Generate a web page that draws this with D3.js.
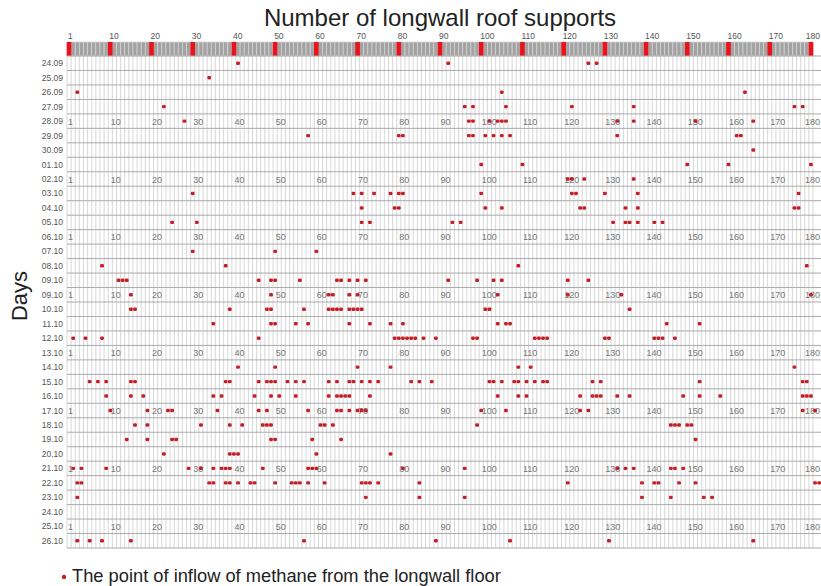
<!DOCTYPE html>
<html>
<head>
<meta charset="utf-8">
<script src="https://cdn.jsdelivr.net/npm/d3@7"></script>
<style>
  body { margin: 0; background: #fff; font-family: "Liberation Sans", Arial, sans-serif; }
</style>
</head>
<body>
<div id="chart"></div>
<script>
// days (rows) as printed in the source, including the repeated 09.10
const days = ['24.09', '25.09', '26.09', '27.09', '28.09', '29.09', '30.09', '01.10',
  '02.10', '03.10', '04.10', '05.10', '06.10', '07.10', '08.10', '09.10', '09.10',
  '10.10', '11.10', '12.10', '13.10', '14.10', '15.10', '16.10', '17.10', '18.10',
  '19.10', '20.10', '21.10', '22.10', '23.10', '24.10', '25.10', '26.10'];

// support column of each methane inflow point, one list per day
const inflowSupports = [
  [41, 92, 126, 128],
  [34],
  [2, 105, 164],
  [23, 96, 98, 106, 122, 137, 176, 178],
  [28, 97, 98, 102, 104, 105, 106, 133, 137, 152, 166],
  [58, 80, 81, 97, 98, 101, 103, 105, 107, 133, 162, 163],
  [166],
  [100, 110, 150, 160, 180],
  [121, 122, 125, 137],
  [30, 69, 71, 74, 78, 80, 81, 100, 122, 123, 130, 138, 177],
  [71, 79, 80, 101, 105, 124, 125, 135, 138, 176, 177],
  [25, 31, 71, 73, 93, 95, 132, 135, 136, 138, 142, 144],
  [],
  [30, 50, 60],
  [8, 38, 109, 179],
  [12, 13, 14, 46, 49, 50, 56, 65, 66, 68, 70, 72, 92, 99, 103, 105, 121, 126],
  [15, 49, 63, 64, 68, 70, 104, 121, 134, 180],
  [15, 16, 39, 48, 49, 57, 63, 64, 65, 66, 68, 69, 70, 71, 101, 102, 136],
  [35, 49, 50, 55, 58, 68, 73, 78, 81, 104, 106, 107, 145, 153],
  [1, 4, 8, 46, 79, 80, 81, 82, 83, 84, 86, 89, 98, 99, 113, 114, 115, 116, 130, 131, 142, 143, 144, 147],
  [],
  [41, 50, 70, 78, 109, 112, 176],
  [5, 7, 9, 15, 16, 38, 39, 46, 48, 49, 50, 53, 55, 57, 63, 65, 68, 69, 71, 73, 75, 83, 85, 88,
    102, 103, 105, 108, 109, 111, 113, 115, 116, 127, 129, 153, 178, 179],
  [9, 15, 18, 35, 37, 45, 49, 51, 55, 63, 65, 66, 67, 68, 73, 104, 109, 111, 124, 127, 128, 129,
    133, 136, 149, 153, 158, 178, 179, 180],
  [10, 19, 24, 25, 36, 46, 48, 58, 65, 66, 68, 70, 71, 72, 100, 106, 124, 126, 178, 181],
  [16, 19, 32, 39, 42, 47, 48, 49, 61, 62, 64, 99, 146, 147, 148, 150, 151],
  [14, 19, 25, 26, 49, 50, 59, 66, 152],
  [23, 39, 40, 41, 60, 78],
  [1, 3, 9, 29, 32, 35, 37, 38, 39, 47, 58, 59, 60, 81, 96, 133, 135, 137, 146, 147, 149],
  [2, 3, 34, 35, 38, 39, 41, 44, 45, 50, 54, 55, 56, 58, 62, 71, 72, 73, 75, 85, 121, 139, 142,
    143, 148, 152, 181, 182],
  [2, 72, 85, 96, 139, 146, 154, 156],
  [],
  [],
  [2, 5, 8, 15, 57, 89, 107, 131, 166],
];

const supportTicks = [0, 10, 20, 30, 40, 50, 60, 70, 80, 90, 100, 110, 120, 130, 140, 150, 160, 170, 180];
const supportTickLabels = ['1', '10', '20', '30', '40', '50', '60', '70', '80', '90', '100',
  '110', '120', '130', '140', '150', '160', '170', '180'];
const numberedRows = [4, 8, 12, 16, 20, 24, 28, 32];
const nSupports = 181;

const W = 821, H = 586;
const g = { left: 67, right: 813, top: 56, bottom: 548, headTop: 42 };

const svg = d3.select('#chart').append('svg')
  .attr('width', W)
  .attr('height', H);

const x = d3.scaleLinear().domain([0, nSupports]).range([g.left, g.right]);
const y = d3.scaleBand().domain(d3.range(days.length)).range([g.top, g.bottom]);
const cw = x(1) - x(0);
const cx = k => x(k + 0.5);
const last = supportTicks[supportTicks.length - 1];

// number labels: the last one is pulled in so it stays on the page
const labelX = (k, shift) => k === last ? W - 1 : cx(k) + shift;
const labelAnchor = k => k === last ? 'end' : 'start';

// title
svg.append('text')
  .attr('x', 440).attr('y', 26)
  .attr('text-anchor', 'middle')
  .attr('font-size', 24)
  .attr('fill', '#222')
  .text('Number of longwall roof supports');

// header strip with supports
const head = svg.append('g');
head.selectAll('rect')
  .data(d3.range(nSupports))
  .join('rect')
  .attr('x', k => x(k))
  .attr('y', g.headTop)
  .attr('width', cw)
  .attr('height', g.top - g.headTop)
  .attr('fill', '#a3a3a3')
  .attr('stroke', '#d6d6d6')
  .attr('stroke-width', 0.7);

head.selectAll('rect.mark')
  .data(supportTicks)
  .join('rect')
  .attr('class', 'mark')
  .attr('x', k => x(k) - 0.3)
  .attr('y', g.headTop)
  .attr('width', cw + 0.6)
  .attr('height', g.top - g.headTop)
  .attr('fill', '#e8141c');

head.selectAll('text')
  .data(supportTicks)
  .join('text')
  .attr('x', k => labelX(k, -1))
  .attr('y', 39)
  .attr('text-anchor', labelAnchor)
  .attr('font-size', 8.5)
  .attr('fill', '#555')
  .text((k, i) => supportTickLabels[i]);

// grid
const grid = svg.append('g');
grid.selectAll('line.v')
  .data(d3.range(nSupports + 1))
  .join('line')
  .attr('class', 'v')
  .attr('x1', k => x(k)).attr('x2', k => x(k))
  .attr('y1', g.top).attr('y2', g.bottom)
  .attr('stroke', '#cdcdcd')
  .attr('stroke-width', 0.8);

grid.selectAll('line.h')
  .data(d3.range(days.length + 1))
  .join('line')
  .attr('class', 'h')
  .attr('x1', g.left).attr('x2', W)
  .attr('y1', i => i < days.length ? y(i) : g.bottom)
  .attr('y2', i => i < days.length ? y(i) : g.bottom)
  .attr('stroke', '#ababab')
  .attr('stroke-width', 1);

// day labels
svg.append('g').selectAll('text')
  .data(days)
  .join('text')
  .attr('x', g.left - 4)
  .attr('y', (d, i) => y(i) + y.bandwidth() / 2 + 3)
  .attr('text-anchor', 'end')
  .attr('font-size', 8.5)
  .attr('fill', '#555')
  .text(d => d);

// repeated support numbers inside the grid
const numRows = svg.append('g').selectAll('g')
  .data(numberedRows)
  .join('g')
  .attr('transform', r => `translate(0,${y(r) + y.bandwidth() / 2 + 3.5})`);
numRows.selectAll('text')
  .data(supportTicks)
  .join('text')
  .attr('x', k => labelX(k, k === 0 ? -1 : 0.5))
  .attr('text-anchor', labelAnchor)
  .attr('font-size', 9)
  .attr('fill', '#777')
  .text((k, i) => supportTickLabels[i]);

// inflow points
const points = inflowSupports.flatMap((list, row) => list.map(s => ({ row, s })));
svg.append('g').selectAll('rect')
  .data(points)
  .join('rect')
  .attr('x', d => cx(d.s) - 1.9)
  .attr('y', d => y(d.row) + y.bandwidth() / 2 - 1.7)
  .attr('width', 3.8)
  .attr('height', 3.4)
  .attr('rx', 1.3)
  .attr('fill', '#c41e26');

// y title
svg.append('text')
  .attr('transform', 'translate(27,296) rotate(-90)')
  .attr('text-anchor', 'middle')
  .attr('font-size', 22)
  .attr('fill', '#222')
  .text('Days');

// legend
svg.append('circle')
  .attr('cx', 64).attr('cy', 577)
  .attr('r', 2.2)
  .attr('fill', '#c41e26');
svg.append('text')
  .attr('x', 72).attr('y', 582)
  .attr('font-size', 18.3)
  .attr('fill', '#222')
  .text('The point of inflow of methane from the longwall floor');
</script>
</body>
</html>
